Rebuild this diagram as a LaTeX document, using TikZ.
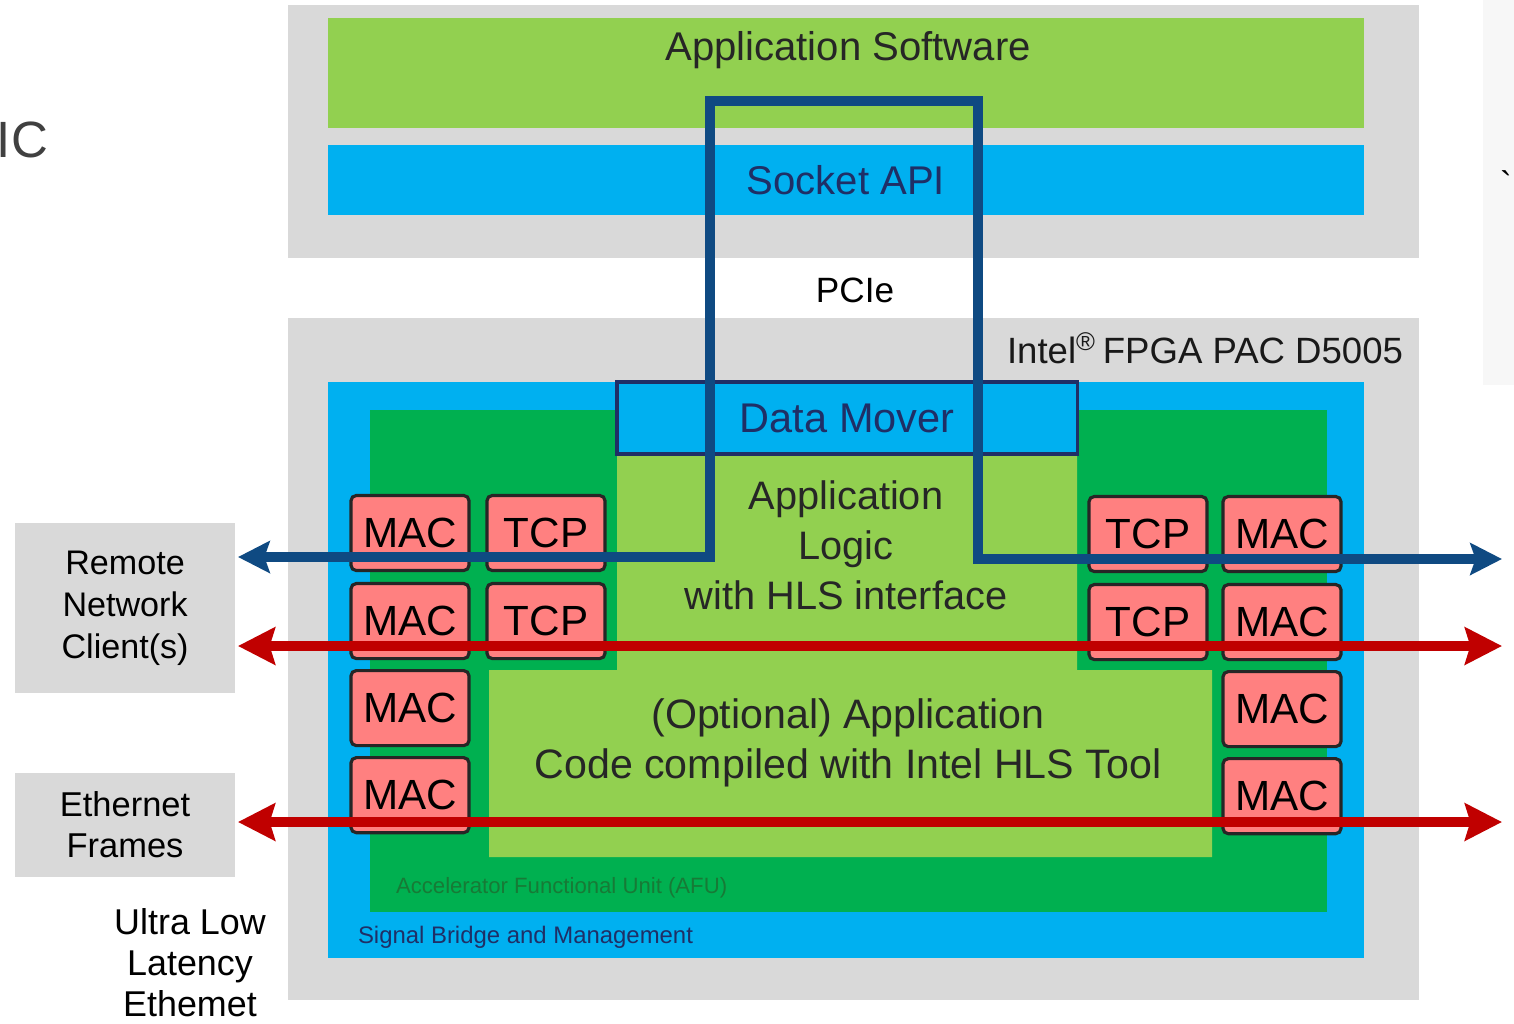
\documentclass[tikz,border=0pt]{standalone}
\usepackage{fontspec}
\setmainfont{Liberation Sans}
\usepackage{tikz}
\usetikzlibrary{positioning,arrows.meta,calc}

\definecolor{boardgray}{HTML}{D9D9D9}
\definecolor{panelgray}{HTML}{F7F7F7}
\definecolor{appgreen}{HTML}{92D050}
\definecolor{apiblue}{HTML}{00B0F0}
\definecolor{afugreen}{HTML}{00B050}
\definecolor{afutext}{HTML}{177A36}
\definecolor{macred}{HTML}{FF8080}
\definecolor{linkblue}{HTML}{0F4A82}
\definecolor{linkred}{HTML}{C00000}
\definecolor{navytext}{HTML}{1F2F66}

\begin{document}
\begin{tikzpicture}[
            x=0.01cm, y=-0.01cm,
            node distance=0pt,
            outer sep=0pt,
            % Style for background layers
            layer/.style={
                anchor=north west,
                inner sep=0pt
            },
            % Style for MAC / TCP cells
            cell/.style={
                draw=black!85,
                line width=0.9pt,
                fill=macred,
                rounded corners=1.5pt,
                minimum width=1.18cm,
                minimum height=0.75cm,
                inner sep=0pt,
                font=\fontsize{12}{14}\selectfont
            },
            % Style for the grey side boxes
            sidebox/.style={
                layer,
                fill=boardgray,
                minimum width=2.2cm,
                align=center
            },
            % Style for the small layer names
            tag/.style={
                anchor=west,
                inner sep=0pt
            },
            % Style for the links
            bluelink/.style={
                draw=linkblue, line width=2.7pt,
                {Stealth[length=9pt,width=9pt,inset=1.5pt]}-{Stealth[length=9pt,width=9pt,inset=1.5pt]}
            },
            redlink/.style={
                draw=linkred, line width=2.8pt,
                {Stealth[length=10.5pt,width=10.5pt,inset=1.5pt]}-{Stealth[length=10.5pt,width=10.5pt,inset=1.5pt]}
            }
        ]
            \useasboundingbox (0,0) rectangle (1514,1023);

            % --- SIDE TEXT ---
            \fill[panelgray] (1483,0) rectangle (1514,385);
            \node[anchor=base west, inner sep=0pt, text=black!75, font=\fontsize{14.5}{18}\selectfont] (nic) at (-3,157) {IC};
            \node[font=\fontsize{10}{12}\selectfont] (tick) at (1506,184) {\textasciigrave};

            % --- HOST: APPLICATION SOFTWARE + SOCKET API ---
            \node[layer, fill=boardgray, minimum width=11.30cm, minimum height=2.53cm] (host) at (288,5) {};
            \node[layer, fill=appgreen, minimum width=10.35cm, minimum height=1.10cm] (appsw) at (328,18) {};
            \node[font=\fontsize{11.4}{14}\selectfont, text=black!85] (appswtxt) at (848,50) {Application Software};
            \node[layer, fill=apiblue, minimum width=10.35cm, minimum height=0.70cm,
                  text=navytext, font=\fontsize{11.4}{14}\selectfont] (socket) at (328,145) {Socket API};

            \node[font=\fontsize{10}{12}\selectfont] (pcie) at (855,290) {PCIe};

            % --- BOARD: FPGA PAC ---
            \node[layer, fill=boardgray, minimum width=11.30cm, minimum height=6.82cm] (board) at (288,318) {};
            \node[anchor=east, inner sep=0pt, font=\fontsize{10.4}{12}\selectfont, text=black!90] (boardname) at (1403,348)
                {Intel\textsuperscript{\textregistered}\,FPGA PAC D5005};

            % Signal bridge and AFU
            \node[layer, fill=apiblue, minimum width=10.35cm, minimum height=5.76cm] (shell) at (328,382) {};
            \node[tag, text=navytext, font=\fontsize{6.8}{8}\selectfont] (shelltxt) at (358,937)
                {Signal Bridge and Management};
            \node[layer, fill=afugreen, minimum width=9.56cm, minimum height=5.02cm] (afu) at (370,410) {};
            \node[tag, text=afutext, font=\fontsize{6.3}{8}\selectfont] (afutxt) at (396,888)
                {Accelerator Functional Unit (AFU)};

            % Application logic area
            \fill[appgreen] (617,453) -- (1077,453) -- (1077,670) -- (1212,670) -- (1212,857)
                -- (489,857) -- (489,670) -- (617,670) -- cycle;
            \node[layer, fill=apiblue, draw=navytext, line width=1pt, minimum width=4.60cm, minimum height=0.72cm,
                  text=navytext, font=\fontsize{11.8}{14}\selectfont] (mover) at (617,382) {Data Mover};
            \node[align=center, font=\fontsize{11.3}{14.2}\selectfont, text=black!85] (applogic) at (846,545)
                {Application\\Logic\\with HLS interface};
            \node[align=center, font=\fontsize{11.7}{14.2}\selectfont, text=black!85] (hlscode) at (848,743)
                {(Optional) Application\\Code compiled with Intel HLS Tool};

            % --- MAC / TCP CELLS ---
            \node[cell] (macL1) at (410,533) {MAC};
            \node[cell, below=0.13cm of macL1] (macL2) {MAC};
            \node[cell, below=0.12cm of macL2] (macL3) {MAC};
            \node[cell, below=0.12cm of macL3] (macL4) {MAC};
            \node[cell] (tcpL1) at (546,533) {TCP};
            \node[cell, below=0.13cm of tcpL1] (tcpL2) {TCP};

            \node[cell] (tcpR1) at (1148,534) {TCP};
            \node[cell, below=0.13cm of tcpR1] (tcpR2) {TCP};
            \node[cell] (macR1) at (1282,534) {MAC};
            \node[cell, below=0.13cm of macR1] (macR2) {MAC};
            \node[cell, below=0.12cm of macR2] (macR3) {MAC};
            \node[cell, below=0.12cm of macR3] (macR4) {MAC};

            % --- CLIENTS ---
            \node[sidebox, minimum height=1.70cm, font=\fontsize{9.7}{11.9}\selectfont] (remote) at (15,523)
                {Remote\\Network\\Client(s)};
            \node[sidebox, minimum height=1.04cm, font=\fontsize{9.8}{11.7}\selectfont] (frames) at (15,773)
                {Ethernet\\Frames};
            \node[align=center, font=\fontsize{10.2}{11.7}\selectfont] (ulle) at (190,963)
                {Ultra Low\\Latency\\Ethemet};

            % --- LINKS ---
            \coordinate (tcpInL) at (238,557);
            \coordinate (tcpInR) at (1502,559);
            \coordinate (swL) at (710,101);
            \coordinate (swR) at (978,101);
            \coordinate (rawL1) at (238,646);
            \coordinate (rawR1) at (1502,646);
            \coordinate (rawL2) at (238,822);
            \coordinate (rawR2) at (1502,822);

            % TCP path through the host
            \draw[bluelink] (tcpInL) -| (swL) -- (swR) |- (tcpInR);
            % raw ethernet paths
            \draw[redlink] (rawL1) -- (rawR1);
            \draw[redlink] (rawL2) -- (rawR2);

        \end{tikzpicture}
\end{document}
